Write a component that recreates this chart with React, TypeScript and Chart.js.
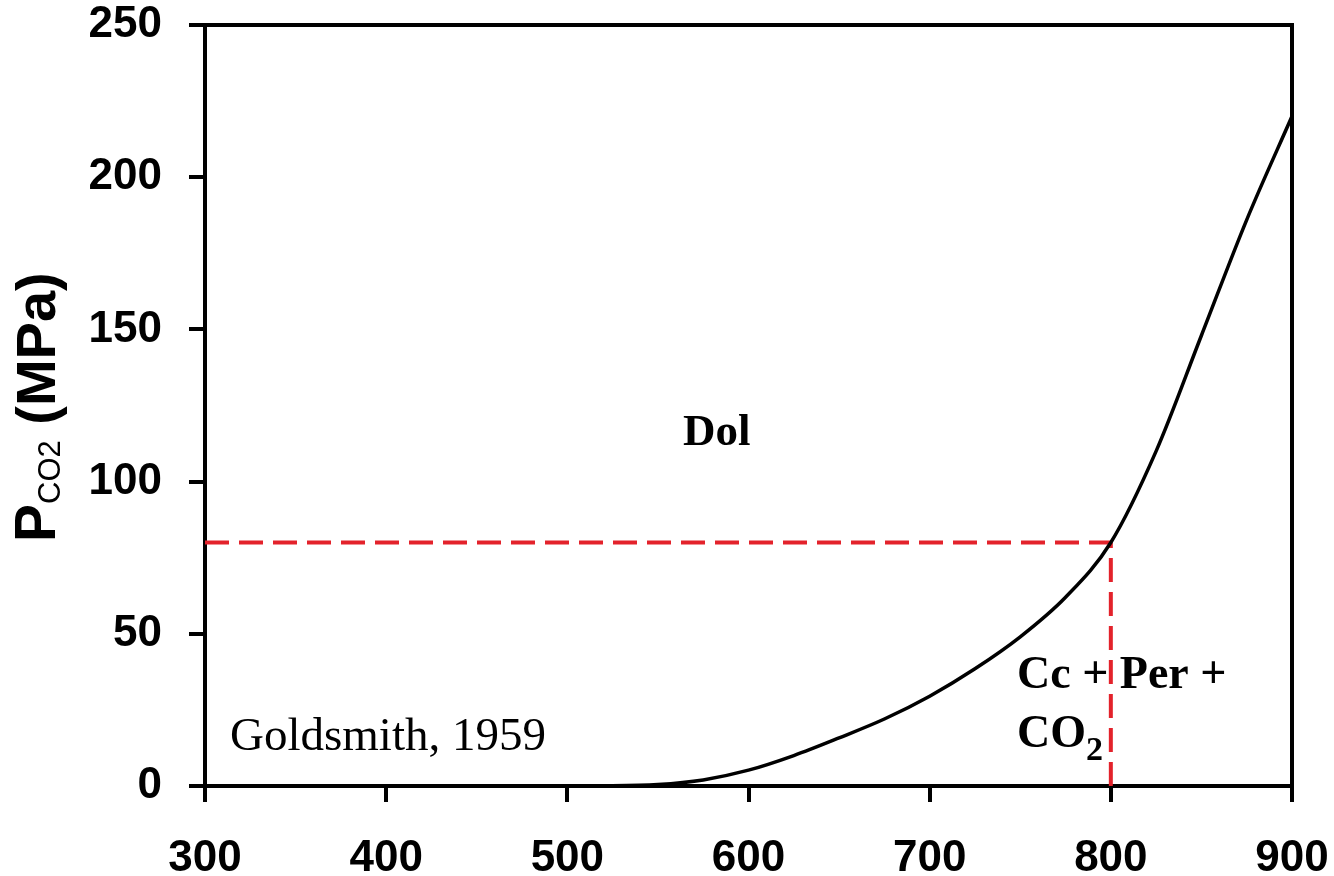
import React, { useEffect, useRef } from "react";
import { Chart, registerables } from "chart.js";

Chart.register(...registerables);

// Temperature (°C) and P_CO2 (MPa) for the dolomite decomposition curve
const temperatures = [512, 550, 575, 600, 625, 650, 675, 700, 725, 750, 775, 800, 825, 850, 875, 900];
const pressures = [0, 0.5, 2, 5.2, 10, 15.8, 22, 29.5, 38.5, 49, 62, 80, 110, 148, 186, 220];

// Reference lines (red dashed)
const refHorizX = [300, 800];
const refHorizY = [80, 80];
const refVertX = [800, 800];
const refVertY = [0, 80];

const xTicks = [300, 400, 500, 600, 700, 800, 900];
const yTicks = [0, 50, 100, 150, 200, 250];

const annotationsPlugin = {
  id: "annotationsPlugin",
  beforeDatasetsDraw(chart: any) {
    const ctx = chart.ctx;
    ctx.save();
    ctx.fillStyle = "#000";
    ctx.textBaseline = "alphabetic";
    ctx.textAlign = "left";
    ctx.font = "bold 45px 'Liberation Serif', 'Times New Roman', serif";
    ctx.fillText("Dol", 683, 445);
    ctx.font = "47px 'Liberation Serif', 'Times New Roman', serif";
    ctx.fillText("Goldsmith, 1959", 230, 750);
    ctx.font = "bold 46px 'Liberation Serif', 'Times New Roman', serif";
    ctx.fillText("Cc + Per +", 1017, 688);
    ctx.fillText("CO", 1017, 747);
    const w = ctx.measureText("CO").width;
    ctx.font = "bold 34px 'Liberation Serif', 'Times New Roman', serif";
    ctx.fillText("2", 1017 + w, 760);
    ctx.restore();
  },
  afterDraw(chart: any) {
    const ctx = chart.ctx;
    const a = chart.chartArea;
    ctx.save();
    // top and right frame lines
    ctx.strokeStyle = "#000";
    ctx.lineWidth = 4;
    ctx.lineCap = "square";
    ctx.beginPath();
    ctx.moveTo(a.left, a.top);
    ctx.lineTo(a.right, a.top);
    ctx.lineTo(a.right, a.bottom);
    ctx.stroke();

    // rotated y-axis title: P_CO2 (MPa)
    ctx.translate(55, 542);
    ctx.rotate(-Math.PI / 2);
    ctx.fillStyle = "#000";
    ctx.textBaseline = "alphabetic";
    ctx.textAlign = "left";
    let x = 0;
    ctx.font = "bold 57px 'Liberation Sans', Arial, sans-serif";
    ctx.fillText("P", x, 0);
    x += ctx.measureText("P").width;
    ctx.font = "31px 'Liberation Sans', Arial, sans-serif";
    ctx.fillText("CO2", x, 5);
    x += ctx.measureText("CO2").width;
    ctx.font = "bold 56px 'Liberation Sans', Arial, sans-serif";
    ctx.fillText(" (MPa)", x, 0);
    ctx.restore();
  },
};

export default function App() {
  const canvasRef = useRef<HTMLCanvasElement | null>(null);

  useEffect(() => {
    if (!canvasRef.current) return;
    const toPts = (xs: number[], ys: number[]) => xs.map((v, i) => ({ x: v, y: ys[i] }));
    const chart = new Chart(canvasRef.current, {
      type: "line",
      data: {
        datasets: [
          {
            data: toPts(temperatures, pressures),
            borderColor: "#000",
            borderWidth: 3.5,
            pointRadius: 0,
            cubicInterpolationMode: "monotone",
            fill: false,
          },
          {
            data: toPts(refHorizX, refHorizY),
            borderColor: "#e3222b",
            borderWidth: 4,
            borderDash: [24, 10],
            pointRadius: 0,
            fill: false,
          },
          {
            data: toPts(refVertX, refVertY),
            borderColor: "#e3222b",
            borderWidth: 4,
            borderDash: [24, 10],
            pointRadius: 0,
            fill: false,
          },
        ],
      },
      options: {
        responsive: false,
        animation: false,
        events: [],
        layout: { padding: { top: 25, right: 42, left: 0, bottom: 0 } },
        plugins: {
          legend: { display: false },
          tooltip: { enabled: false },
          title: { display: false },
        },
        scales: {
          x: {
            type: "linear",
            min: 300,
            max: 900,
            afterBuildTicks: (scale: any) => {
              scale.ticks = xTicks.map((v) => ({ value: v }));
            },
            afterFit: (scale: any) => {
              scale.height = 90;
              scale.paddingLeft = 0;
              scale.paddingRight = 0;
              scale.paddingTop = 0;
              scale.paddingBottom = 0;
            },
            border: { display: true, color: "#000", width: 4 },
            grid: {
              display: true,
              drawOnChartArea: false,
              drawTicks: true,
              tickLength: 16,
              tickWidth: 4,
              tickColor: "#000",
              color: "#000",
              lineWidth: 4,
            },
            ticks: {
              color: "#000",
              padding: 35,
              maxRotation: 0,
              autoSkip: false,
              font: { family: "'Liberation Sans', Arial, sans-serif", size: 44, weight: "bold", lineHeight: 1 },
            },
          },
          y: {
            type: "linear",
            min: 0,
            max: 250,
            afterBuildTicks: (scale: any) => {
              scale.ticks = yTicks.map((v) => ({ value: v }));
            },
            afterFit: (scale: any) => {
              scale.width = 205;
              scale.paddingLeft = 0;
              scale.paddingRight = 0;
              scale.paddingTop = 0;
              scale.paddingBottom = 0;
            },
            border: { display: true, color: "#000", width: 4 },
            grid: {
              display: true,
              drawOnChartArea: false,
              drawTicks: true,
              tickLength: 16,
              tickWidth: 4,
              tickColor: "#000",
              color: "#000",
              lineWidth: 4,
            },
            ticks: {
              color: "#000",
              padding: 27,
              autoSkip: false,
              font: { family: "'Liberation Sans', Arial, sans-serif", size: 44, weight: "bold", lineHeight: 1 },
            },
          },
        },
      } as any,
      plugins: [annotationsPlugin],
    });
    return () => chart.destroy();
  }, []);

  return (
    <div style={{ position: "fixed", left: 0, top: 0, width: 1334, height: 876, background: "#fff" }}>
      <canvas ref={canvasRef} width={1334} height={876} style={{ display: "block" }} />
    </div>
  );
}
